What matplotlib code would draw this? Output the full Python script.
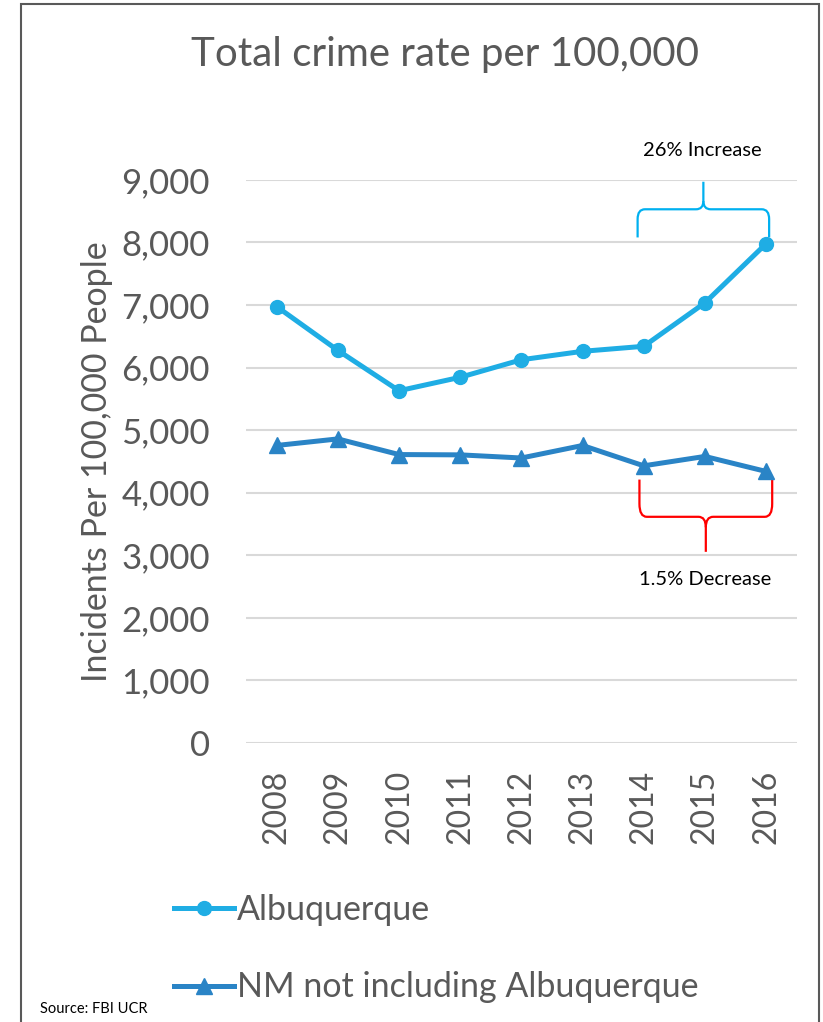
import matplotlib.pyplot as plt
import matplotlib.patches as mpatches
from matplotlib.path import Path
import numpy as np

plt.rcParams['font.family'] = ['Lato', 'DejaVu Sans']

years = ['2008', '2009', '2010', '2011', '2012', '2013', '2014', '2015', '2016']
abq = [6975, 6275, 5630, 5845, 6125, 6260, 6340, 7035, 7980]
nm = [4755, 4860, 4610, 4605, 4555, 4755, 4430, 4580, 4340]
yticks = [0, 1000, 2000, 3000, 4000, 5000, 6000, 7000, 8000, 9000]

abq_color = '#1FADE4'
nm_color = '#2A84C6'
grey = '#595959'


def brace(ax, x0, x1, y_end, y_mid, y_tip, color):
    # curly brace drawn as a bezier path, ends at y_end, tip at y_tip
    xm = (x0 + x1) / 2
    r = 0.12
    ry = (y_mid - y_end) * 0.35
    ty = (y_tip - y_mid) * 0.3
    verts = [(x0, y_end), (x0, y_mid - ry), (x0, y_mid), (x0 + r, y_mid),
             (xm - r, y_mid), (xm, y_mid), (xm, y_mid + ty),
             (xm, y_tip)]
    codes = [Path.MOVETO, Path.LINETO, Path.CURVE3, Path.CURVE3,
             Path.LINETO, Path.CURVE3, Path.CURVE3, Path.LINETO]
    verts2 = [(x1, y_end), (x1, y_mid - ry), (x1, y_mid), (x1 - r, y_mid),
              (xm + r, y_mid), (xm, y_mid), (xm, y_mid + ty)]
    codes2 = [Path.MOVETO, Path.LINETO, Path.CURVE3, Path.CURVE3,
              Path.LINETO, Path.CURVE3, Path.CURVE3]
    for v, c in [(verts, codes), (verts2, codes2)]:
        p = mpatches.PathPatch(Path(v, c), fill=False, edgecolor=color,
                               lw=1.6, clip_on=False)
        ax.add_patch(p)


fig = plt.figure(figsize=(8.23, 10.22), dpi=100)
ax = fig.add_axes([0.299, 0.273, 0.669, 0.551])

x = np.arange(len(years))
ax.plot(x, abq, color=abq_color, lw=3.6, marker='o', ms=10,
        label='Albuquerque', zorder=3)
ax.plot(x, nm, color=nm_color, lw=3.6, marker='^', ms=11,
        label='NM not including Albuquerque', zorder=3)

ax.set_xlim(-0.5, len(years) - 0.5)
ax.set_ylim(0, 9000)
ax.set_yticks(yticks)
ax.set_yticklabels(['{:,}'.format(v) for v in yticks])
ax.set_xticks(x)
ax.set_xticklabels(years, rotation=90)
ax.tick_params(axis='y', length=0, pad=26, labelsize=25, labelcolor=grey)
ax.tick_params(axis='x', length=0, pad=19, labelsize=23, labelcolor=grey)
ax.yaxis.grid(True, color='#D9D9D9', lw=1.5)
ax.set_axisbelow(True)
for s in ax.spines.values():
    s.set_visible(False)
ax.set_ylabel('Incidents Per 100,000 People', fontsize=24.5, color=grey,
              labelpad=6)

fig.text(0.541, 0.947, 'Total crime rate per 100,000', ha='center',
         va='center', fontsize=29, color=grey)

brace(ax, 5.9, 8.05, 8080, 8530, 8970, '#00B0F0')
ax.text(6.95, 9470, '26% Increase', ha='center', va='center', fontsize=14.5,
        color='black', clip_on=False)
brace(ax, 5.93, 8.1, 4210, 3615, 3055, '#FF0000')
ax.text(7.0, 2620, '1.5% Decrease', ha='center', va='center', fontsize=14.5,
        color='black')

leg = fig.legend(loc='upper left', bbox_to_anchor=(0.195, 0.139),
                 frameon=False, fontsize=24.5, handlelength=1.75,
                 handletextpad=0.1, labelspacing=1.35, borderaxespad=0)
for t in leg.get_texts():
    t.set_color(grey)

fig.text(0.048, 0.009, 'Source: FBI UCR', fontsize=10.5, color='black')

border = mpatches.Rectangle((21 / 823, -0.01), 798 / 823, 1 - 4 / 1022 + 0.01,
                            transform=fig.transFigure, fill=False,
                            edgecolor=grey, lw=1.5)
fig.patches.append(border)

plt.savefig('out.png', dpi=100)
